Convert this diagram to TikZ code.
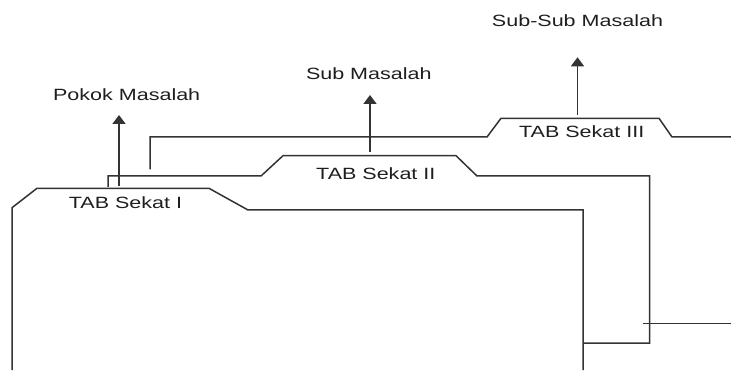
\documentclass[tikz,border=0pt]{standalone}
\usepackage{fontspec}
\setmainfont{Liberation Sans}
\usetikzlibrary{arrows.meta}
\definecolor{linec}{HTML}{333333}
\definecolor{textc}{HTML}{1E1E1E}
\tikzset{
  folder/.style={draw=linec, line width=1.5pt, line join=miter},
  thin/.style={draw=linec, line width=1.1pt},
  lbl/.style={inner sep=0pt, text=textc, font=\fontsize{16.3}{19}\selectfont},
  up/.style={draw=linec, line width=1.6pt, -{Triangle[width=13pt,length=9pt]}}
}
\newcommand{\wide}[1]{\scalebox{1.32}[1]{#1}}
\begin{document}
\begin{tikzpicture}[x=1pt,y=1pt]
\useasboundingbox (0,0) rectangle (731,370);
% folder 3 (back)
\draw[folder] (150,200.7) -- (150,233) -- (487,233) -- (501,251.7) -- (659,251.7) -- (672,233) -- (731,233);
% folder 2
\draw[folder] (108,183) -- (108,194) -- (261,194) -- (283,214.3) -- (456,214.3) -- (477,194) -- (649.5,194) -- (649.5,27) -- (583,27);
\draw[thin] (643,46.7) -- (731,46.7);
% folder 1 (front)
\draw[folder] (12,0) -- (12,162.3) -- (37,181.7) -- (209,181.7) -- (248,160) -- (583,160) -- (583,0);
% tab labels
\node[lbl] (t1) at (125.5,167.3) {\wide{TAB Sekat I}};
\node[lbl] (t2) at (375.8,196.7) {\wide{TAB Sekat II}};
\node[lbl] (t3) at (581.7,238.3) {\wide{TAB Sekat III}};
% top labels
\node[lbl] (l1) at (126.7,275) {\wide{Pokok Masalah}};
\node[lbl] (l2) at (368.8,296.7) {\wide{Sub Masalah}};
\node[lbl] (l3) at (577.5,349.3) {\wide{Sub-Sub Masalah}};
% arrow start/end coordinates
\coordinate (a1s) at (119,184);
\coordinate (a1e) at (119,255);
\coordinate (a2s) at (370,218);
\coordinate (a2e) at (370,275);
\coordinate (a3s) at (577.5,255);
\coordinate (a3e) at (577.5,312.7);
\draw[up] (a1s) -- (a1e);
\draw[up] (a2s) -- (a2e);
\draw[up] (a3s) -- (a3e);
\end{tikzpicture}
\end{document}
